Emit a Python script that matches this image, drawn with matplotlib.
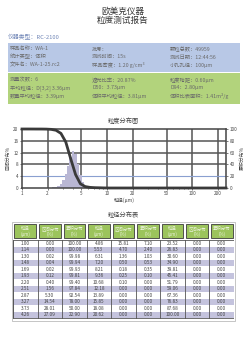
import matplotlib
matplotlib.use("Agg")
from matplotlib import pyplot as plt
from matplotlib.patches import Rectangle
from matplotlib.ticker import NullFormatter

plt.rcParams['font.family'] = ['Noto Sans CJK SC', 'DejaVu Sans']

# ---- data ----
title1 = '欧美克仪器'
title2 = '粒度测试报告'
instrument = '仪器类型：RC-2100'

info_blue = [['样品名称：WA-1', '统计类型：体积', '文件名：WA-1-25.rc2'],
             ['批号：', '测试时间：15s', '样品密度：1.20 g/cm³'],
             ['颗粒总数：49959', '测试日期：12:44:56', '小孔孔径：100μm']]
info_green = [['测量次数：6', '平均粒径：D[3,2] 3.36μm', '数量平均粒径：3.39μm'],
              ['遮光比率：20.87%', 'D50：3.73μm', '体积平均粒径：3.81μm'],
              ['粒度跨距：0.60μm', 'D94：2.80μm', '体积比表面积：1.41m²/g']]

size1 = [1.00, 1.14, 1.30, 1.48, 1.69, 1.93, 2.20, 2.51, 2.87, 3.27, 3.73, 4.26]
diff1 = [0.00, 0.00, 0.02, 0.04, 0.02, 0.12, 0.40, 1.56, 5.30, 14.54, 28.01, 27.09]
cum1 = [100.00, 100.00, 99.98, 99.94, 99.93, 99.81, 99.40, 97.84, 92.54, 78.00, 50.00, 22.90]
size2 = [4.86, 5.53, 6.31, 7.20, 8.21, 9.36, 10.68, 12.18, 13.89, 15.85, 18.08, 20.62]
diff2 = [15.81, 4.70, 1.36, 0.50, 0.18, 0.25, 0.10, 0.00, 0.00, 0.00, 0.00, 0.00]
cum2 = [7.10, 2.40, 1.03, 0.53, 0.35, 0.10, 0.00, 0.00, 0.00, 0.00, 0.00, 0.00]
size3 = [23.52, 26.83, 30.60, 34.90, 39.81, 45.41, 51.79, 59.06, 67.36, 76.83, 87.68, 100.00]
diff3 = [0.00] * 12
cum3 = [0.00] * 12

# histogram as drawn in the chart (finer bins)
hist_size = [2.20, 2.35, 2.51, 2.69, 2.87, 3.07, 3.27, 3.49, 3.73, 3.99, 4.26,
             4.55, 4.86, 5.19, 5.53, 5.91, 6.31]
hist_pct = [0.1, 0.2, 0.3, 0.6, 1.2, 2.6, 4.8, 7.6, 10.6, 12.5, 11.5,
            8.2, 4.4, 2.0, 0.8, 0.3, 0.1]

headers = [('粒径', '(μm)'), ('区间分布', '(%)'), ('累积分布', '(%)')] * 3

W, H = 245, 339
fig = plt.figure(figsize=(W / 100, H / 100), dpi=100)


def fx(x):
    return x / W


def fy(y):
    return 1 - y / H


# titles
fig.text(0.5, fy(11), title1, ha='center', va='center', fontsize=6.2, color='#333333')
fig.text(0.5, fy(20), title2, ha='center', va='center', fontsize=6.2, color='#333333')
fig.text(fx(8), fy(37), instrument, ha='left', va='center', fontsize=4.2, color='#7388b8')

# info boxes
fig.patches.append(Rectangle((fx(8), fy(72)), fx(232), 29 / H, transform=fig.transFigure,
                             facecolor='#b8c8e6', edgecolor='none'))
fig.patches.append(Rectangle((fx(8), fy(104)), fx(232), 31 / H, transform=fig.transFigure,
                             facecolor='#b2d37c', edgecolor='none'))
colx = [10, 92, 170]
for j, col in enumerate(info_blue):
    for i, s in enumerate(col):
        fig.text(fx(colx[j]), fy(49 + 8 * i), s, ha='left', va='center', fontsize=3.8, color='#6a6a6a')
for j, col in enumerate(info_green):
    for i, s in enumerate(col):
        fig.text(fx(colx[j]), fy(80 + 8 * i), s, ha='left', va='center', fontsize=3.8, color='#6a6a6a')

# ---- chart ----
fig.text(fx(123), fy(121), '粒度分布图', ha='center', va='center', fontsize=4.5, color='#444444')
ax = fig.add_axes([fx(22), fy(188), 204 / W, 59 / H])
ax.set_xscale('log')
ax.set_xlim(1, 250)
ax.set_ylim(0, 20)
r = 1.068 ** 0.5
ax.bar([s / r for s in hist_size], hist_pct, width=[s * r - s / r for s in hist_size],
       align='edge', color='#b9b7d4', edgecolor='none', zorder=2)
ax.set_yticks([0, 4, 8, 12, 16, 20])
ax.set_xticks([1, 2, 5, 10, 20, 50, 100, 200])
ax.set_xticklabels(['1', '2', '5', '10', '20', '50', '100', '200'])
ax.xaxis.set_minor_formatter(NullFormatter())
ax.tick_params(labelsize=3.3, length=1.5, width=0.5, pad=1, colors='#444444')
ax.tick_params(which='minor', length=1, width=0.4)
for v in [2, 5, 10, 20, 50, 100, 200]:
    ax.axvline(v, color='#555555', lw=1.1, zorder=1)
for v in [8, 12, 16]:
    ax.axhline(v, color='#555555', lw=1.1, zorder=1)
ax.axhline(4, color='#8aa0d0', lw=0.8, zorder=1)
for sp in ax.spines.values():
    sp.set_color('#444444')
    sp.set_linewidth(1.1)
ax.set_xlabel('粒径(μm)', fontsize=3.5, labelpad=1, color='#444444')
ax.set_ylabel('区间分布%', fontsize=3.5, labelpad=2, color='#444444')

ax2 = ax.twinx()
ax2.set_ylim(0, 100)
ax2.plot(size1 + size2 + size3 + [250], cum1 + cum2 + cum3 + [0.0], color='#3a3a3a', lw=2,
         clip_on=False, zorder=3)
ax2.set_yticks([0, 20, 40, 60, 80, 100])
ax2.tick_params(labelsize=3.3, length=1.5, width=0.5, pad=1, colors='#444444')
ax2.set_ylabel('累积分布%', fontsize=3.5, labelpad=2, color='#444444')
for sp in ax2.spines.values():
    sp.set_visible(False)

# ---- table ----
fig.text(fx(123), fy(215), '粒径分布表', ha='center', va='center', fontsize=4.5, color='#444444')
tx0, tx1 = 13, 234
ty0, ty1 = 222, 321
tab = fig.add_axes([fx(tx0), fy(ty1), (tx1 - tx0) / W, (ty1 - ty0) / H])
tab.set_xlim(0, 9)
tab.set_ylim(ty1, ty0)
tab.axis('off')

# header cells
for c, (h1, h2) in enumerate(headers):
    tab.add_patch(Rectangle((c + 0.06, 224), 0.88, 14, facecolor='#9cc45c',
                            edgecolor='#3c3c3c', lw=0.6))
    tab.text(c + 0.5, 228.5, h1, ha='center', va='center', fontsize=3.2, color='#e8f0d8')
    tab.text(c + 0.5, 234.5, h2, ha='center', va='center', fontsize=3.2, color='#e8f0d8')

# data rows
cols = [size1, diff1, cum1, size2, diff2, cum2, size3, diff3, cum3]
rh = 6.5
top = 240
for i in range(len(size1)):
    y = top + i * rh
    if i % 2 == 1:
        tab.add_patch(Rectangle((0, y), 9, rh, facecolor='#c4c3dd', edgecolor='none'))
    for c, vals in enumerate(cols):
        tab.text(c + 0.5, y + rh / 2, '%.2f' % vals[i], ha='center', va='center',
                 fontsize=3.4, color='#444444')
for c in range(10):
    tab.plot([c, c], [top, top + rh * 12], color='#555555', lw=0.6)
tab.add_patch(Rectangle((0, top), 9, rh * 12, facecolor='none', edgecolor='#555555', lw=0.6))
tab.add_patch(Rectangle((-0.05, 222), 9.1, 98.5, facecolor='none', edgecolor='#bbbbbb', lw=0.6,
                        clip_on=False))

fig.savefig('out.png', dpi=100)
